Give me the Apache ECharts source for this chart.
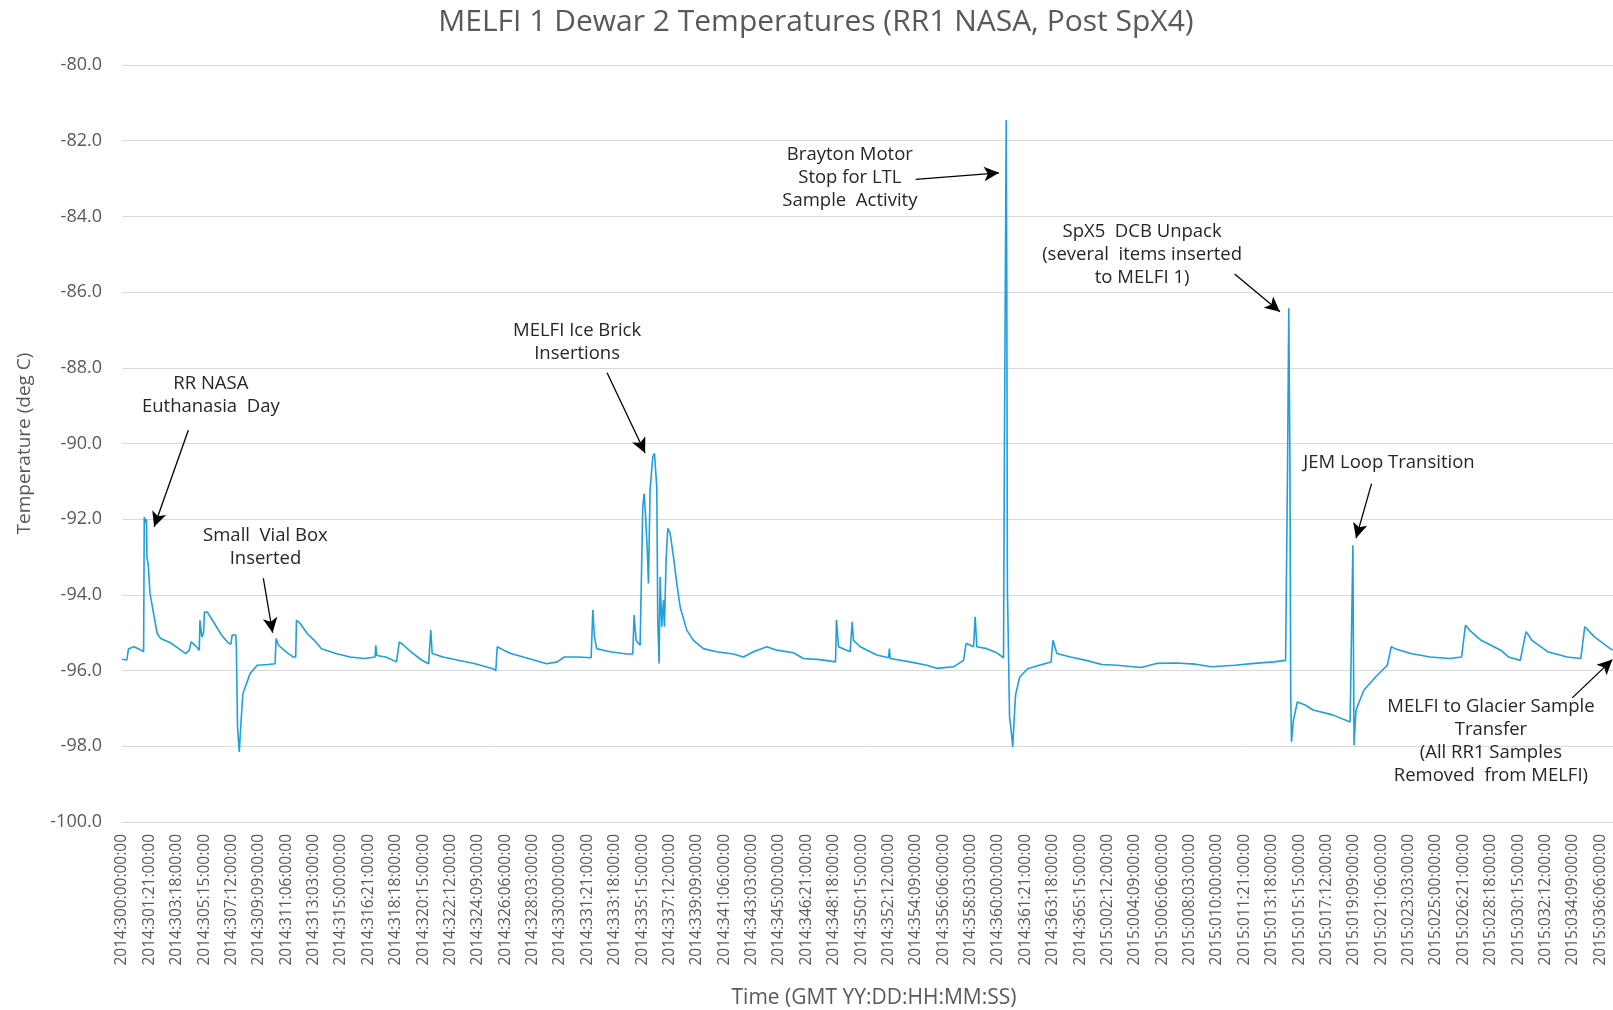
<!DOCTYPE html>
<html>
<head>
<meta charset="utf-8">
<title>MELFI 1 Dewar 2 Temperatures</title>
<script src="https://cdn.jsdelivr.net/npm/echarts@6/dist/echarts.min.js"></script>
<style>
  html, body { margin: 0; padding: 0; background: #fff; }
  #chart { width: 1613px; height: 1010px; }
</style>
</head>
<body>
<div id="chart"></div>
<script>
// hours after 2014:300:00:00:00 (GMT)
const hours = [
  0, 2, 7.9, 10.8, 20, 30, 35.5, 36, 36.6, 38.5, 40.2, 41, 43.1, 46, 51.9, 57.8, 63.7, 81.3, 100, 104.8,
  110.6, 113.6, 122.4, 127, 128.2, 131.2, 134.1, 135.5, 137.1, 140, 151.7, 163.5, 175.2, 179, 181.1, 187, 188, 189.9, 192.8, 195.8,
  198.7, 210.5, 222.2, 240, 251.6, 253.3, 257.4, 269.2, 280.9, 285.5, 286.8, 292.7, 304.4, 316.2, 327.9, 351.4, 374.9, 398.4, 416, 417.2,
  418.9, 433.6, 451.2, 455.9, 463, 474.7, 492.3, 504.1, 507.6, 509.9, 527.6, 551, 580.4, 609.8, 614.5, 616.8, 627.4, 639.1, 668.5, 697.9,
  715.5, 727.2, 750.7, 771.2, 774, 776.6, 780.4, 791.4, 802.4, 829.8, 839.6, 841.8, 845.1, 851.7, 854.4, 856.1, 858.3, 860.5, 863.7, 865.4,
  868.1, 872.5, 875.3, 879.1, 880.7, 882.9, 884.6, 887.3, 890.1, 891.7, 894.4, 897.2, 901, 906.5, 912, 917.5, 928.4, 939.4, 955.8, 977.8,
  1005.2, 1021.6, 1038, 1060, 1076.4, 1103.8, 1120.2, 1147.6, 1172.9, 1174.5, 1177.8, 1197, 1200.3, 1202.5, 1213.4, 1240.8, 1260, 1261.6, 1262.7, 1295.6,
  1323, 1339.5, 1366.9, 1383.3, 1387.7, 1399.8, 1402.5, 1405.2, 1421.7, 1438.1, 1449.1, 1450.7, 1452, 1453.5, 1454.5, 1455.5, 1456.2, 1459, 1462.8, 1464.2,
  1468.3, 1469.3, 1475.8, 1488.6, 1507.9, 1527.2, 1530.4, 1536.8, 1559.3, 1585, 1610.7, 1636.4, 1675, 1700.7, 1732.9, 1765, 1790.7, 1829.3, 1861.4, 1893.5,
  1912.8, 1916, 1918, 1919.9, 1921.2, 1922.5, 1925.7, 1932.1, 1945, 1957.8, 1990, 2018.9, 2022.1, 2023.4, 2025.3, 2028.5, 2041.4, 2060.7, 2080, 2086.4,
  2092.8, 2118.5, 2150.7, 2182.8, 2202.1, 2208.5, 2215, 2234.2, 2266.4, 2279.2, 2298.5, 2308.1, 2317.8, 2343.5, 2375.6, 2398.1, 2404.6, 2420.6, 2446.4, 2451
];

// dewar 2 temperature, deg C
const temps = [
  -95.70, -95.72, -95.72, -95.42, -95.37, -95.45, -95.50, -94.00, -91.94, -92.10, -92.00, -93.00, -93.20, -93.96, -94.49, -95.02, -95.15, -95.28, -95.50, -95.55,
  -95.46, -95.24, -95.37, -95.46, -94.67, -95.11, -95.00, -94.45, -94.40, -94.45, -94.75, -95.06, -95.28, -95.30, -95.06, -95.06, -95.40, -97.49, -98.15, -97.31,
  -96.61, -96.08, -95.86, -95.84, -95.82, -95.15, -95.33, -95.50, -95.64, -95.64, -94.67, -94.75, -95.02, -95.20, -95.42, -95.55, -95.64, -95.68, -95.64, -95.33,
  -95.60, -95.64, -95.77, -95.24, -95.33, -95.50, -95.72, -95.82, -94.93, -95.55, -95.64, -95.72, -95.82, -95.95, -96.00, -95.37, -95.46, -95.55, -95.68, -95.82,
  -95.77, -95.64, -95.64, -95.66, -94.40, -95.11, -95.42, -95.46, -95.50, -95.56, -95.56, -94.53, -95.20, -95.33, -95.37, -91.67, -91.32, -91.85, -92.90, -93.70,
  -91.23, -90.35, -90.26, -91.15, -94.66, -95.81, -93.52, -94.84, -94.14, -94.84, -93.08, -92.24, -92.37, -92.99, -93.70, -94.32, -94.93, -95.20, -95.42, -95.50,
  -95.56, -95.64, -95.50, -95.37, -95.46, -95.53, -95.68, -95.71, -95.77, -94.66, -95.37, -95.50, -94.71, -95.20, -95.37, -95.59, -95.66, -95.42, -95.68, -95.77,
  -95.86, -95.94, -95.90, -95.73, -95.28, -95.37, -94.58, -95.37, -95.42, -95.53, -95.66, -89.74, -85.90, -81.45, -85.90, -93.90, -94.50, -97.22, -97.75, -98.02,
  -96.78, -96.61, -96.17, -95.95, -95.86, -95.77, -95.20, -95.55, -95.64, -95.73, -95.84, -95.86, -95.92, -95.81, -95.80, -95.83, -95.90, -95.86, -95.81, -95.77,
  -95.73, -90.62, -86.43, -90.44, -96.61, -97.88, -97.31, -96.83, -96.91, -97.04, -97.17, -97.36, -97.31, -92.69, -97.97, -97.04, -96.52, -96.17, -95.86, -95.37,
  -95.42, -95.55, -95.64, -95.68, -95.64, -94.80, -94.93, -95.20, -95.46, -95.64, -95.73, -94.97, -95.20, -95.50, -95.64, -95.68, -94.84, -95.11, -95.42, -95.46
];

const labelStep = 45;   // hours between time labels
const hourMax = 2451;   // right edge of the visible plot

// callouts: text anchor and arrow from/to, in [hour, temp]
const noteTexts = [
  'RR NASA\nEuthanasia  Day',
  'Small  Vial Box\nInserted',
  'MELFI Ice Brick\nInsertions',
  'Brayton Motor\nStop for LTL\nSample  Activity',
  'SpX5  DCB Unpack\n(several  items inserted\nto MELFI 1)',
  'JEM Loop Transition',
  'MELFI to Glacier Sample\nTransfer\n(All RR1 Samples\nRemoved  from MELFI)'
];
const noteAt = [[146, -88.72], [235.8, -92.74], [748.1, -87.32], [1196.5, -82.99], [1676.9, -85.0], [2082.7, -90.52], [2250.3, -97.87]];
const arrowFrom = [[109, -89.65], [232.3, -93.56], [797.4, -88.13], [1304.7, -83.02], [1829, -85.52], [2054.1, -91.06], [2384, -96.72]];
const arrowTo = [[52.9, -92.2], [247.6, -95.0], [859.9, -90.25], [1441.8, -82.85], [1903.5, -86.52], [2028.6, -92.5], [2450, -95.71]];

const pad = (n, w) => String(n).padStart(w, '0');
const timeLabel = h => {
  let day = 300 + Math.floor(h / 24);
  let year = 2014;
  if (day > 365) { day -= 365; year = 2015; }
  return year + ':' + pad(day, 3) + ':' + pad(h % 24, 2) + ':00:00';
};

const chart = echarts.init(document.getElementById('chart'));
const grey = '#595959';
const font = '"Open Sans", "Noto Sans", sans-serif';

chart.setOption({
  animation: false,
  backgroundColor: '#fff',
  textStyle: { fontFamily: font },
  title: {
    text: 'MELFI 1 Dewar 2 Temperatures (RR1 NASA, Post SpX4)',
    left: 811,
    textAlign: 'center',
    top: 2,
    textStyle: { color: grey, fontSize: 30, fontWeight: 'normal', fontFamily: font }
  },
  grid: { left: 122, right: 0, top: 65, bottom: 188, outerBoundsMode: 'none' },
  xAxis: {
    type: 'value',
    min: 0,
    max: hourMax,
    interval: labelStep,
    name: 'Time (GMT YY:DD:HH:MM:SS)',
    nameLocation: 'middle',
    nameGap: 166,
    nameTextStyle: { color: grey, fontSize: 21, padding: [0, 0, 0, 13] },
    axisLine: { show: true, lineStyle: { color: '#d9d9d9' } },
    axisTick: { show: false },
    splitLine: { show: false },
    axisLabel: {
      rotate: 90,
      margin: 12,
      color: grey,
      fontSize: 15.5,
      showMaxLabel: false,
      formatter: v => timeLabel(v)
    }
  },
  yAxis: {
    type: 'value',
    min: -100,
    max: -80,
    interval: 2,
    name: 'Temperature (deg C)',
    nameLocation: 'middle',
    nameRotate: 90,
    nameGap: 88,
    nameTextStyle: { color: grey, fontSize: 19 },
    axisLine: { show: false },
    axisTick: { show: false },
    splitLine: { lineStyle: { color: '#d9d9d9', width: 1 } },
    axisLabel: { color: grey, fontSize: 18, margin: 20, formatter: v => v.toFixed(1) }
  },
  series: [{
    type: 'line',
    data: hours.map((h, i) => [h, temps[i]]),
    showSymbol: false,
    lineStyle: { color: '#1ea0dc', width: 1.6 },
    itemStyle: { color: '#1ea0dc' },
    clip: false,
    markLine: {
      silent: true,
      symbol: ['none', 'arrow'],
      symbolSize: [11, 15],
      label: { show: false },
      lineStyle: { color: '#000', width: 1.3, type: 'solid' },
      data: arrowFrom.map((p, i) => [{ coord: p }, { coord: arrowTo[i] }])
    }
  }]
});

// callout texts, placed through the axes
chart.setOption({
  graphic: noteTexts.map((t, i) => {
    const [x, y] = chart.convertToPixel({ gridIndex: 0 }, noteAt[i]);
    return {
      type: 'text',
      x, y,
      silent: true,
      style: {
        text: t,
        fill: '#262626',
        font: '18.5px ' + font,
        lineHeight: 23,
        align: 'center',
        verticalAlign: 'middle'
      }
    };
  })
});
</script>
</body>
</html>
